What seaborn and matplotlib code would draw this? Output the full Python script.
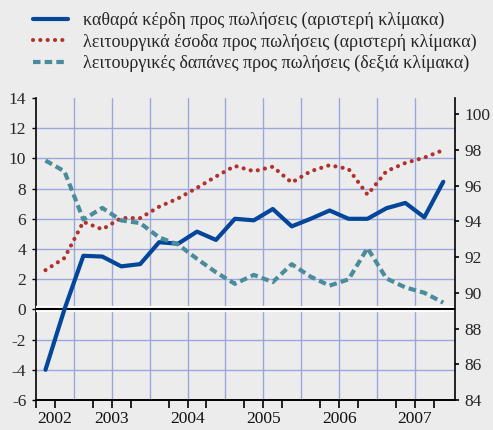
import numpy as np
import pandas as pd
import matplotlib
matplotlib.use("Agg")
import matplotlib.pyplot as plt
import matplotlib.patheffects as pe
import seaborn as sns

# ---- data (quarterly, 2002 Q3 .. 2007 Q4) ----
years = ["2002", "2003", "2004", "2005", "2006", "2007"]
net_profit = [-4.0, 0.0, 3.55, 3.5, 2.85, 3.0, 4.45, 4.35, 5.15, 4.6, 6.0,
              5.9, 6.65, 5.5, 6.0, 6.55, 6.0, 6.0, 6.7, 7.05, 6.1, 8.45]
op_income = [2.6, 3.4, 5.8, 5.3, 6.05, 6.05, 6.8, 7.35, 8.05, 8.8, 9.5,
             9.15, 9.45, 8.4, 9.15, 9.55, 9.3, 7.6, 9.15, 9.7, 10.05, 10.55]
op_expense = [97.4, 96.8, 94.1, 94.75, 94.05, 93.9, 93.1, 92.7, 91.9, 91.15, 90.5,
              91.0, 90.6, 91.6, 90.9, 90.4, 90.75, 92.5, 90.8, 90.3, 90.0, 89.45]
labels = ["καθαρά κέρδη προς πωλήσεις (αριστερή κλίμακα)",
          "λειτουργικά έσοδα προς πωλήσεις (αριστερή κλίμακα)",
          "λειτουργικές δαπάνες προς πωλήσεις (δεξιά κλίμακα)"]
left_ticks = [-6, -4, -2, 0, 2, 4, 6, 8, 10, 12, 14]
right_ticks = [84, 86, 88, 90, 92, 94, 96, 98, 100]

df = pd.DataFrame({"q": np.arange(len(net_profit)),
                   "net": net_profit, "inc": op_income, "exp": op_expense})

BG = "#ececec"
GRID = "#9ba6dc"
BLUE = "#00469b"
RED = "#b0322b"
TEAL = "#4a8c9b"

sns.set_theme(style="white")
plt.rcParams["font.family"] = ["Liberation Serif", "DejaVu Serif"]

fig = plt.figure(figsize=(4.93, 4.30), dpi=100, facecolor=BG)
ax = fig.add_axes([36/493, 1 - 400/430, (455 - 36)/493, (400 - 98)/430])
ax.set_facecolor(BG)
ax2 = ax.twinx()

sns.lineplot(data=df, x="q", y="net", ax=ax, color=BLUE, lw=3.0,
             label=labels[0], legend=False, zorder=5)
sns.lineplot(data=df, x="q", y="inc", ax=ax, color=RED, lw=3.0,
             linestyle=(0, (0.01, 1.75)), dash_capstyle="round",
             label=labels[1], legend=False, zorder=5)
sns.lineplot(data=df, x="q", y="exp", ax=ax2, color=TEAL, lw=3.0,
             linestyle=(0, (1.8, 1.0)), label=labels[2], legend=False, zorder=5)

ax.set_xlim(-0.45, 21.62)
ax.set_ylim(-6, 14)
ax2.set_ylim(84, 100.9)

ax.set_yticks(left_ticks)
ax.set_yticklabels([str(t) for t in left_ticks])
ax2.set_yticks(right_ticks)
ax2.set_yticklabels([str(t) for t in right_ticks])

# x ticks: year boundaries (major, long) and quarter boundaries (minor)
year_bounds = np.arange(1.5, 22, 4)
quarter_bounds = np.arange(-0.5, 22, 1)
ax.set_xticks(year_bounds)
ax.set_xticklabels([])
ax.set_xticks(quarter_bounds, minor=True)
ax.tick_params(axis="x", which="major", length=11, width=1.2, color="black", direction="out")
ax.tick_params(axis="x", which="minor", length=6, width=1.2, color="black", direction="out", bottom=True)
ax.tick_params(axis="y", which="major", length=3, width=1, color="black", direction="out",
               labelsize=12.5, pad=4, left=True)
ax2.tick_params(axis="y", which="major", length=3, width=1.2, color="black", direction="out",
                labelsize=12.5, pad=3.5, right=True)

# year labels centred in each year's span
centers = [0.5, 3.5, 7.5, 11.5, 15.5, 19.5]
for c, y in zip(centers, years):
    ax.text(c, -0.035, y, transform=ax.get_xaxis_transform(), ha="center", va="top",
            fontsize=12.5, color="#111111")

# grid
for v in np.arange(1.5, 20, 2):
    ax.axvline(v, color=GRID, lw=1.0, zorder=0)
for t in left_ticks:
    if t not in (-6, 0, 14):
        ax.axhline(t, color=GRID, lw=1.0, zorder=0)
ax.axhline(0, color="black", lw=1.5, zorder=3,
           path_effects=[pe.withStroke(linewidth=4.5, foreground="white")])

for a in (ax, ax2):
    a.set_xlabel("")
    a.set_ylabel("")
    a.spines["top"].set_visible(False)
    for s in ("left", "right", "bottom"):
        a.spines[s].set_color("black")
        a.spines[s].set_linewidth(1.2)
ax2.spines["left"].set_visible(False)
ax.spines["right"].set_visible(False)
ax2.set_zorder(ax.zorder + 1)
ax2.patch.set_visible(False)

h1, l1 = ax.get_legend_handles_labels()
h2, l2 = ax2.get_legend_handles_labels()
fig.legend(h1 + h2, l1 + l2, loc="upper left", bbox_to_anchor=(33/493, 1 - 12/430),
           frameon=False, fontsize=13, handlelength=1.95, handletextpad=0.8,
           labelspacing=0.22, borderaxespad=0, borderpad=0)

fig.savefig("out.png", dpi=100, facecolor=BG)
